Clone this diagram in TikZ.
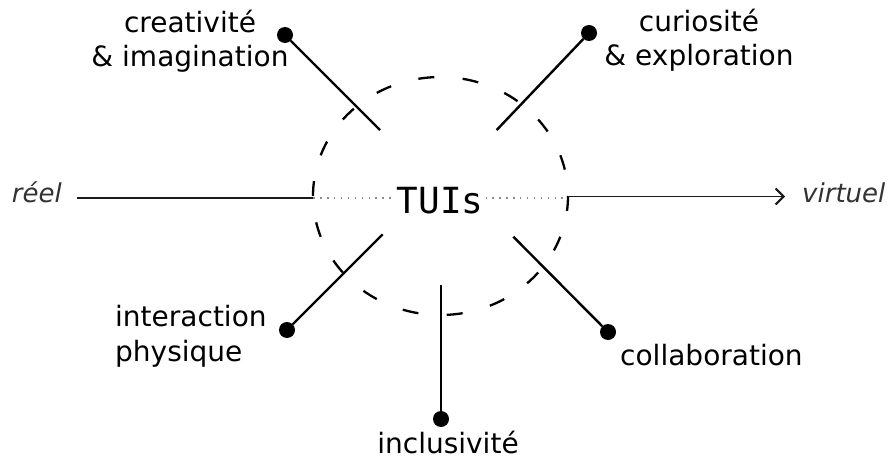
\documentclass[tikz,border=0pt]{standalone}
\usepackage{fontspec}
\setmainfont{DejaVu Sans}
\newfontfamily\tuimono{DejaVu Sans Mono}
\usetikzlibrary{arrows.meta}
\definecolor{axisgray}{HTML}{1A1A1A}
\definecolor{dotgray}{HTML}{8A8A8A}
\definecolor{softtext}{HTML}{333333}
\tikzset{
  label/.style={font=\fontsize{28}{34.5}\selectfont, inner sep=0pt, text=black},
  sidelabel/.style={font=\fontsize{26}{30}\selectfont\itshape, text=softtext, inner ysep=0pt},
  knob/.style={circle, fill=black, minimum size=16pt, inner sep=0pt},
  spoke/.style={line width=2.4pt, black},
  axisline/.style={line width=1.6pt, axisgray},
  dotline/.style={line width=1.4pt, dotgray, dash pattern=on 1.4pt off 5.5pt},
  ringdash/.style={line width=2.3pt, black, line cap=butt},
}
\begin{document}
\begin{tikzpicture}[x=1pt,y=-1pt]
\useasboundingbox (0,0) rectangle (892,468);
% dashed ring
\foreach \k in {0,...,17}{
  \pgfmathsetmacro\t{-3.6+20*\k}
  \draw[ringdash] plot[domain=\t-3.6:\t+3.6, samples=8, smooth] ({440.5+127.5*cos(\x)},{196-119*sin(\x)});
}
% centre
\node[font=\tuimono\fontsize{36}{36}\selectfont, inner xsep=2pt, inner ysep=0pt, anchor=base] (tuis) at (440,214) {TUIs};
\coordinate (lin) at (313.3,198);
\coordinate (rin) at (568.3,198);
\coordinate (rout) at (568.3,196.5);
% axis labels
\node[sidelabel, inner xsep=15pt, anchor=base east] (reel) at (77,203) {réel};
\node[sidelabel, inner xsep=17pt, anchor=base west] (virtuel) at (785,203) {virtuel};
\draw[axisline] (reel.east |- lin) -- (lin);
\draw[dotline] (lin) -- (tuis.west |- lin);
\draw[dotline] (tuis.east |- rin) -- (rin);
\draw[axisline, -{Straight Barb[length=8pt,width=16pt,line width=2pt]}] (rout) -- (virtuel.west |- rout);
% knobs
\node[knob] (k1) at (285,35) {};
\node[knob] (k2) at (589,33) {};
\node[knob] (k3) at (287,330) {};
\node[knob] (k4) at (608,332) {};
\node[knob] (k5) at (441,419) {};
\coordinate (s1) at (380,130);
\coordinate (s2) at (496.7,130);
\coordinate (s3) at (382.7,234.3);
\coordinate (s4) at (513.3,236.7);
\coordinate (s5) at (441,285);
\draw[spoke] (s1) -- (k1);
\draw[spoke] (s2) -- (k2);
\draw[spoke] (s3) -- (k3);
\draw[spoke] (s4) -- (k4);
\draw[spoke] (s5) -- (k5);
% labels
\node[label, align=center, anchor=base] (l1) at (190,67) {creativité\\\& imagination};
\node[label, align=center, anchor=base] (l2) at (699,66) {curiosité\\\& exploration};
\node[label, align=left, anchor=base west] (l3) at (115,361) {interaction\\physique};
\node[label, anchor=base west] (l4) at (620,365) {collaboration};
\node[label, anchor=base] (l5) at (448,453) {inclusivité};
\end{tikzpicture}
\end{document}
